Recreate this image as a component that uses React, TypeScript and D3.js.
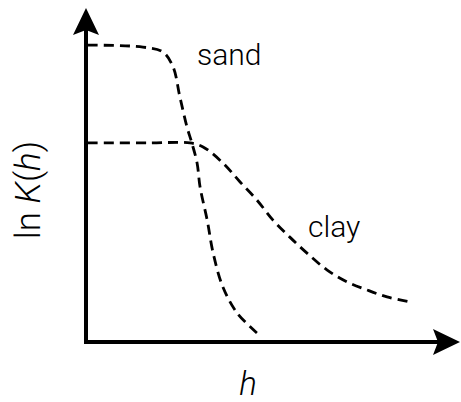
import React from "react";
import * as d3 from "d3";

// Conductivity curves, ln K against suction head h (arbitrary units, 0–10)
const sandH = [0.05, 1.52, 2.06, 2.33, 2.51, 2.7, 2.83, 2.97, 3.05, 3.24, 3.4, 3.66, 4.04, 4.57];
const sandLnK = [8.89, 8.83, 8.68, 8.23, 7.34, 6.44, 5.96, 5.36, 4.64, 3.65, 2.66, 1.65, 0.87, 0.27];
const clayH = [0.05, 1.71, 2.78, 3.13, 3.66, 4.12, 4.57, 5.0, 5.45, 5.91, 6.44, 6.98, 7.51, 8.05, 8.66];
const clayLnK = [5.96, 5.96, 5.96, 5.84, 5.36, 4.79, 4.25, 3.65, 3.14, 2.66, 2.16, 1.8, 1.56, 1.35, 1.2];
const seriesLabels = ["sand", "clay"];

const W = 461;
const H = 402;
const FONT = "Roboto, 'Liberation Sans', sans-serif";

export default function App() {
  const x = d3.scaleLinear().domain([0, 10]).range([86, 460]);
  const y = d3.scaleLinear().domain([0, 10]).range([342, 8]);

  const line = d3
    .line<[number, number]>()
    .x((d) => x(d[0]))
    .y((d) => y(d[1]))
    .curve(d3.curveCatmullRom.alpha(0.5));

  const sand: [number, number][] = sandH.map((h, i) => [h, sandLnK[i]]);
  const clay: [number, number][] = clayH.map((h, i) => [h, clayLnK[i]]);

  const x0 = x(0);
  const y0 = y(0);
  const xEnd = x(10);
  const yEnd = y(10);

  // notched arrowheads
  const upArrow = `M${x0},${yEnd} L${x0 + 13},${yEnd + 27} L${x0},${yEnd + 22} L${x0 - 13},${yEnd + 27} Z`;
  const rightArrow = `M${xEnd},${y0} L${xEnd - 27},${y0 - 13} L${xEnd - 22},${y0} L${xEnd - 27},${y0 + 13} Z`;

  return (
    <svg width={W} height={H} style={{ position: "absolute", left: 0, top: 0, background: "#fff" }}>
      <rect width={W} height={H} fill="#fff" />
      <g fill="none" stroke="#000" strokeWidth={2.8} strokeDasharray="10 6">
        <path d={line(sand) ?? ""} />
        <path d={line(clay) ?? ""} />
      </g>
      <line x1={x0} y1={y0} x2={x0} y2={yEnd + 20} stroke="#000" strokeWidth={4} />
      <line x1={x0 - 2} y1={y0} x2={xEnd - 20} y2={y0} stroke="#000" strokeWidth={4} />
      <path d={upArrow} fill="#000" />
      <path d={rightArrow} fill="#000" />
      <text x={197} y={65} fontFamily={FONT} fontWeight={300} fontSize={30} fill="#000">
        {seriesLabels[0]}
      </text>
      <text x={308} y={237} fontFamily={FONT} fontWeight={300} fontSize={30} fill="#000">
        {seriesLabels[1]}
      </text>
      <text
        transform="translate(40,190) rotate(-90)"
        textAnchor="middle"
        fontFamily={FONT}
        fontWeight={300}
        fontSize={35}
        fill="#000"
      >
        ln <tspan fontStyle="italic">K</tspan>(<tspan fontStyle="italic">h</tspan>)
      </text>
      <text x={248} y={395} textAnchor="middle" fontFamily={FONT} fontWeight={300} fontStyle="italic" fontSize={33} fill="#000">
        h
      </text>
    </svg>
  );
}
